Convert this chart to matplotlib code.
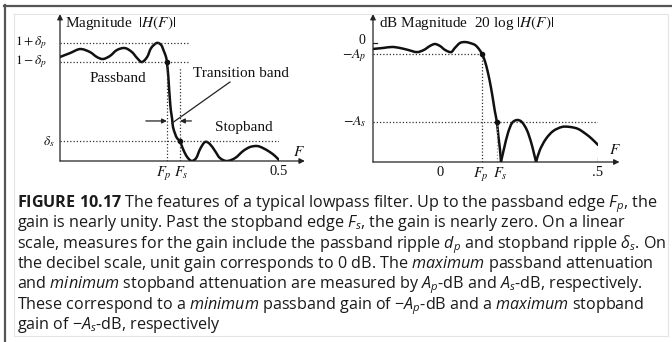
import numpy as np
import matplotlib
matplotlib.use("Agg")
import matplotlib.pyplot as plt
from matplotlib.path import Path
from matplotlib.patches import PathPatch
from matplotlib.lines import Line2D

plt.rcParams['mathtext.fontset'] = 'custom'
plt.rcParams['mathtext.rm'] = 'Open Sans'
plt.rcParams['mathtext.it'] = 'Open Sans:italic'
plt.rcParams['mathtext.bf'] = 'Open Sans:bold'

# ---------------- data ----------------
# Linear magnitude panel
lin_F = [0.000, 0.023, 0.046, 0.068, 0.084, 0.098, 0.114, 0.130, 0.148, 0.164,
         0.176, 0.187, 0.199, 0.208, 0.221, 0.231, 0.237, 0.242, 0.244, 0.247,
         0.249, 0.251, 0.253, 0.256, 0.258, 0.263, 0.267, 0.274, 0.279, 0.285,
         0.292, 0.301, 0.311, 0.320, 0.331, 0.342, 0.354, 0.365, 0.381, 0.400,
         0.418, 0.434, 0.450, 0.463, 0.479, 0.491, 0.500]
lin_H = [0.959, 0.995, 1.032, 1.005, 0.959, 0.940, 0.968, 1.023, 1.041, 1.005,
         0.949, 0.912, 0.959, 1.041, 1.088, 1.069, 1.014, 0.959, 0.912, 0.793,
         0.673, 0.562, 0.470, 0.387, 0.313, 0.249, 0.212, 0.180, 0.129, 0.074,
         0.028, 0.000, 0.028, 0.111, 0.175, 0.157, 0.092, 0.028, 0.000, 0.028,
         0.092, 0.129, 0.138, 0.120, 0.083, 0.046, 0.009]
lin_Fp, lin_Fs = 0.244, 0.274
delta_p, delta_s = 0.088, 0.180
lin_xtick_labels = [r'$F_p$', r'$F_s$', '0.5']
lin_ytick_labels = [r'$1+\delta_p$', r'$1-\delta_p$', r'$\delta_s$']

# dB magnitude panel (three lobes separated by nulls)
db_F = [
    [-0.212, -0.180, -0.152, -0.127, -0.101, -0.073, -0.051, -0.032, -0.016, 0.000,
     0.016, 0.035, 0.047, 0.063, 0.079, 0.095, 0.111, 0.123, 0.133, 0.142,
     0.152, 0.161, 0.168, 0.174, 0.180, 0.185, 0.190, 0.193],
    [0.193, 0.203, 0.215, 0.228, 0.244, 0.259, 0.275, 0.288, 0.297, 0.304],
    [0.304, 0.316, 0.335, 0.358, 0.386, 0.411, 0.437, 0.462, 0.481, 0.500],
]
db_H = [
    [-3.0, -2.5, -2.0, -2.5, -3.5, -4.6, -3.5, -1.5, -0.5, -1.5,
     -3.5, -4.6, -2.5, 0.0, 0.5, 0.0, -1.0, -3.0, -5.6, -9.1,
     -15.2, -22.3, -28.9, -34.9, -40.0, -47.5, -54.2, -60.25],
    [-60.25, -53.2, -45.6, -40.5, -39.0, -40.0, -44.1, -50.1, -55.7, -60.25],
    [-60.25, -54.2, -48.6, -44.6, -42.5, -42.5, -43.5, -46.1, -48.6, -51.6],
]
db_Fp, db_Fs = 0.133, 0.180
A_p, A_s = 5.6, 40.0
db_xtick_labels = ['0', r'$F_p$', r'$F_s$', '.5']
db_ytick_labels = ['0', r'$-A_p$', r'$-A_s$']

caption_lines = [
    r"$\mathbf{FIGURE\ 10.17}$ The features of a typical lowpass filter. Up to the passband edge $F_p$, the",
    r"gain is nearly unity. Past the stopband edge $F_s$, the gain is nearly zero. On a linear",
    r"scale, measures for the gain include the passband ripple $d_p$ and stopband ripple $\delta_s$. On",
    r"the decibel scale, unit gain corresponds to 0 dB. The $\mathit{maximum}$ passband attenuation",
    r"and $\mathit{minimum}$ stopband attenuation are measured by $A_p$-dB and $A_s$-dB, respectively.",
    r"These correspond to a $\mathit{minimum}$ passband gain of $-A_p$-dB and a $\mathit{maximum}$ stopband",
    r"gain of $-A_s$-dB, respectively",
]

# ---------------- figure ----------------
W, H = 672, 342
fig = plt.figure(figsize=(W / 100, H / 100), dpi=100)
fig.patch.set_facecolor('white')


def fx(px):
    return px / W


def fy(py):
    return 1 - py / H


SERIF = 'Liberation Serif'
FS = 11.0
TFS = 10.5
LW = 1.8
INK = '#111111'


def smooth_path(xs, ys):
    pts = np.column_stack([xs, ys]).astype(float)
    verts = [pts[0]]
    codes = [Path.MOVETO]
    n = len(pts)
    for i in range(n - 1):
        p0 = pts[i - 1] if i > 0 else pts[i]
        p1 = pts[i]
        p2 = pts[i + 1]
        p3 = pts[i + 2] if i + 2 < n else pts[i + 1]
        verts += [p1 + (p2 - p0) / 6, p2 - (p3 - p1) / 6, p2]
        codes += [Path.CURVE4] * 3
    return Path(verts, codes)


def serif_text(ax, x, y, s, **kw):
    t = ax.text(x, y, s, fontfamily=SERIF, fontsize=FS, color=INK, **kw)
    t.set_math_fontfamily('stix')
    return t


def label_at(ax, x, y, s, dx_pt, dy_pt, ha, va, size=TFS):
    t = ax.annotate(s, xy=(x, y), xytext=(dx_pt, dy_pt), textcoords='offset points',
                    ha=ha, va=va, fontfamily=SERIF, fontsize=size,
                    color=INK, annotation_clip=False)
    t.set_math_fontfamily('stix')
    return t


def axis_arrow(ax, start, end):
    ax.annotate('', xy=end, xytext=start, xycoords='data', textcoords='data',
                annotation_clip=False,
                arrowprops=dict(arrowstyle='-|>', lw=0.9, color='#222222',
                                mutation_scale=8, shrinkA=0, shrinkB=0))


dot_kw = dict(color='#333333', lw=0.9, ls=(0, (1, 1.6)))

# ---- left panel: linear magnitude ----
axL = fig.add_axes([fx(60), fy(161), fx(279) - fx(60), fy(14) - fy(161)])
axL.set_xlim(0, 0.5)
axL.set_ylim(0, 1.355)
axL.set_axis_off()
for yv, s, dx in zip([1 + delta_p, 1 - delta_p, delta_s], lin_ytick_labels, [-9.5, -9.5, -3.8]):
    label_at(axL, 0, yv, s, dx, 0, 'right', 'center', size=9.6)
for xv, s, dx in zip([lin_Fp, lin_Fs, 0.5], lin_xtick_labels, [-2.5, 1.2, 0]):
    label_at(axL, xv, 0, s, dx, -3, 'center', 'top')

axis_arrow(axL, (0, 0), (0.559, 0))
axis_arrow(axL, (0, 0), (0, 1.355))

axL.plot([0, 0.292], [1 + delta_p] * 2, **dot_kw)
axL.plot([0, 0.292], [1 - delta_p] * 2, **dot_kw)
axL.plot([0, 0.502], [delta_s] * 2, **dot_kw)
axL.plot([lin_Fp] * 2, [0, 1 - delta_p], **dot_kw)
axL.plot([lin_Fs] * 2, [0, 0.857], **dot_kw)

axL.add_patch(PathPatch(smooth_path(lin_F, lin_H), fill=False, lw=LW,
                        color=INK, capstyle='round', joinstyle='round'))
axL.plot([lin_Fp, lin_Fs], [1 - delta_p, delta_s], 'o', ms=3, color=INK)

# transition band pointer and arrows
axL.plot([0.388, 0.256], [0.728, 0.350], color='#222222', lw=0.9)
axL.annotate('', xy=(lin_Fp, 0.369), xytext=(0.196, 0.369),
             arrowprops=dict(arrowstyle='-|>', lw=0.9, color='#222222',
                             mutation_scale=7, shrinkA=0, shrinkB=0))
axL.annotate('', xy=(lin_Fs, 0.369), xytext=(0.300, 0.369),
             arrowprops=dict(arrowstyle='-|>', lw=0.9, color='#222222',
                             mutation_scale=7, shrinkA=0, shrinkB=0))

serif_text(axL, 0.011, 1.272, r'Magnitude  $|H(F)|$', va='center', ha='left')
serif_text(axL, 0.131, 0.765, 'Passband', va='center', ha='center')
serif_text(axL, 0.414, 0.811, 'Transition band', va='center', ha='center')
serif_text(axL, 0.419, 0.313, 'Stopband', va='center', ha='center')
serif_text(axL, 0.545, 0.085, r'$F$', va='center', ha='center')

# ---- right panel: dB magnitude ----
axR = fig.add_axes([fx(373), fy(162), fx(598) - fx(373), fy(14) - fy(162)])
axR.set_xlim(-0.212, 0.5)
axR.set_ylim(-60.25, 14.7)
axR.set_axis_off()
for yv, s, dx, dy in zip([0.0, -A_p, -A_s], db_ytick_labels, [-5.5, -4.3, -4.3], [1.6, -1.0, 0]):
    label_at(axR, -0.212, yv, s, dx, dy, 'right', 'center', size=10.0)
for xv, s, dx in zip([0.0, db_Fp, db_Fs, 0.5], db_xtick_labels, [0, -0.5, 2.2, 0]):
    label_at(axR, xv, -60.25, s, dx, -3, 'center', 'top')

axis_arrow(axR, (-0.212, -60.25), (0.568, -60.25))
axis_arrow(axR, (-0.212, -60.25), (-0.212, 14.7))
axR.plot([-0.212, -0.200], [0, 0], color='#222222', lw=0.9)
axR.plot([0.5, 0.5], [-60.25, -58.2], color='#222222', lw=0.9)

axR.plot([-0.212, db_Fp], [-A_p] * 2, **dot_kw)
axR.plot([-0.212, 0.528], [-A_s] * 2, **dot_kw)
axR.plot([db_Fp] * 2, [-60.25, -A_p], **dot_kw)
axR.plot([db_Fs] * 2, [-60.25, -A_s], color='#999999', lw=0.9, ls=(0, (1, 1.6)))

for xs, ys in zip(db_F, db_H):
    axR.add_patch(PathPatch(smooth_path(xs, ys), fill=False, lw=LW,
                            color=INK, capstyle='round', joinstyle='round'))
axR.plot([db_Fp, db_Fs], [-A_p, -A_s], 'o', ms=3, color=INK)

serif_text(axR, -0.193, 10.1, r'dB Magnitude  20 log $|H(F)|$', va='center', ha='left')
serif_text(axR, 0.554, -54.0, r'$F$', va='center', ha='center')

# ---- frames ----
fig.add_artist(Line2D([fx(4), fx(672)], [fy(5.5), fy(5.5)], color='#555555', lw=1.6))
fig.add_artist(Line2D([fx(4.5), fx(4.5)], [fy(5), fy(342)], color='#555555', lw=1.6))
fig.add_artist(Line2D([fx(14), fx(668), fx(668), fx(14), fx(14)],
                      [fy(14), fy(14), fy(336), fy(336), fy(14)], color='#e4e4e4', lw=0.8))

# ---- caption ----
renderer = fig.canvas.get_renderer()
cap_fs = 10.0
widths = []
for line in caption_lines:
    probe = fig.text(0, 0, line, fontfamily='Open Sans', fontsize=cap_fs)
    probe.set_math_fontfamily('custom')
    widths.append(probe.get_window_extent(renderer).width)
    probe.remove()
cap_fs = cap_fs * 650.0 / max(widths)

for i, line in enumerate(caption_lines):
    t = fig.text(fx(17), fy(207 + 20.4 * i), line, fontfamily='Open Sans',
                 fontsize=cap_fs, va='baseline', ha='left', color='#1a1a1a')
    t.set_math_fontfamily('custom')

fig.savefig('out.png', dpi=100)
